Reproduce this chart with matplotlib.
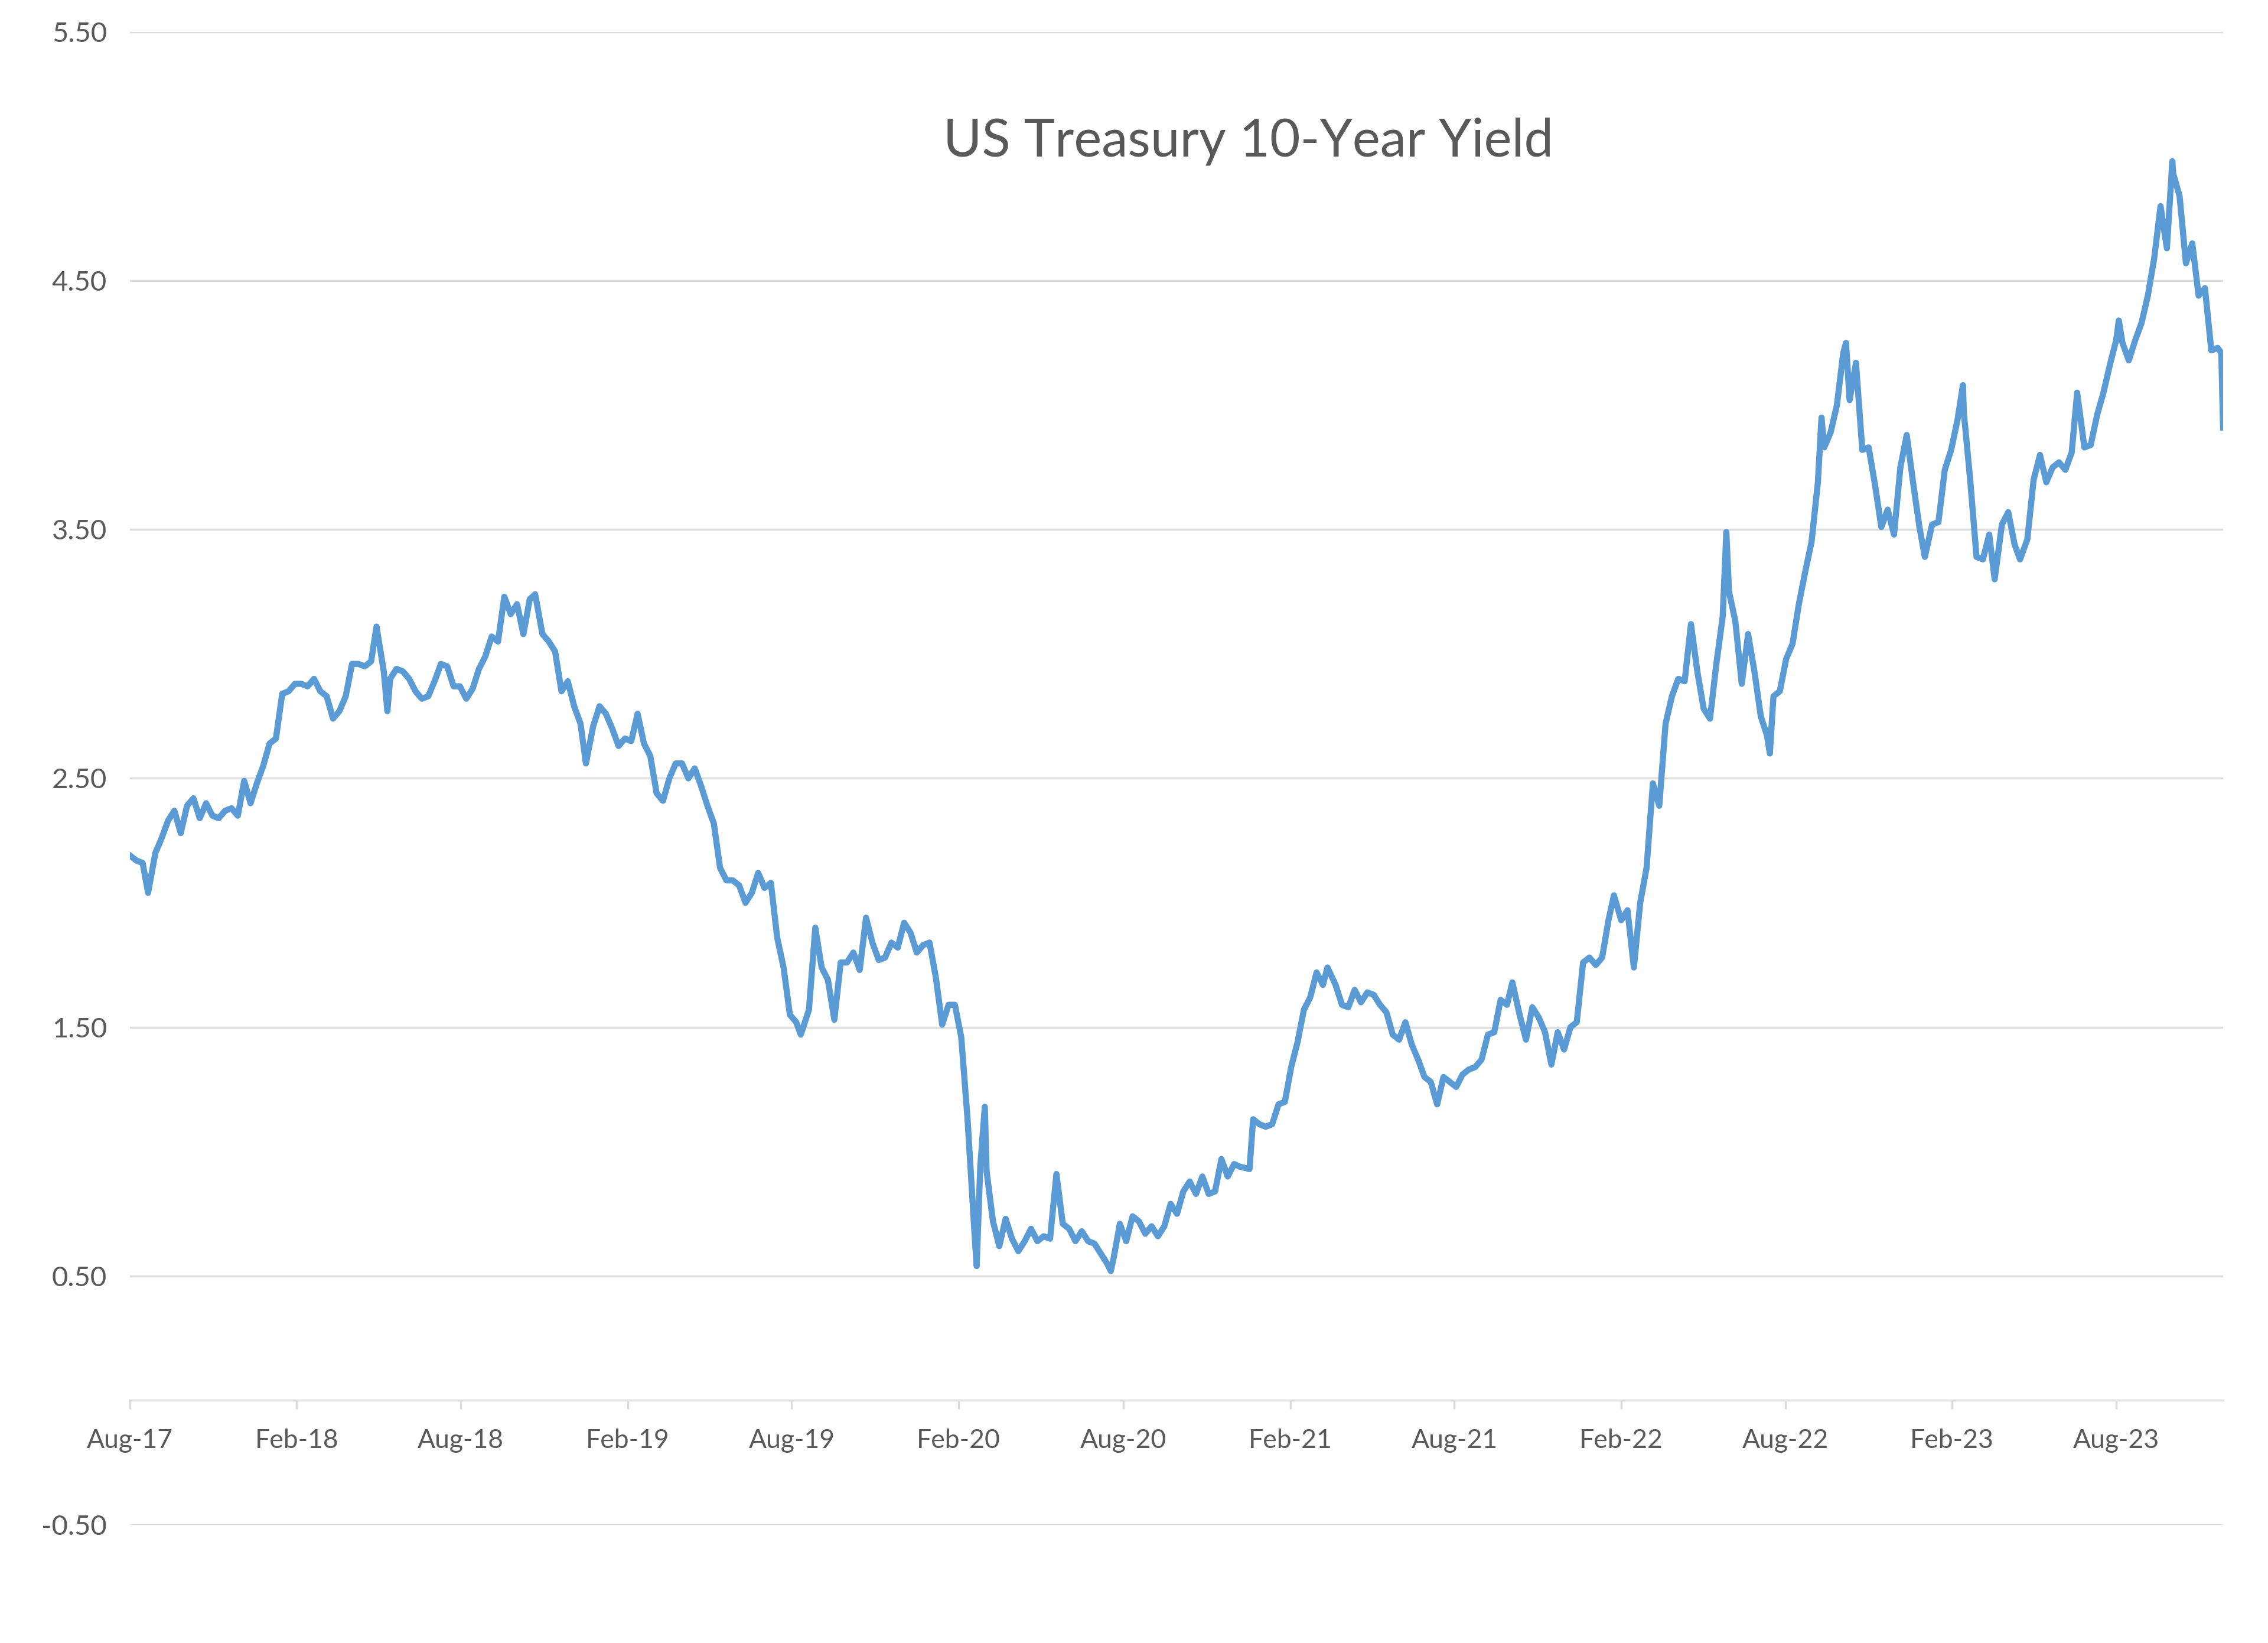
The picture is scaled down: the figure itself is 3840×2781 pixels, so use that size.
import matplotlib
matplotlib.use("Agg")
import matplotlib.pyplot as plt
import matplotlib.dates as mdates
import numpy as np
import pandas as pd

# weekly-ish readings of the 10-year yield (MM-DD per year, percent)
d2017 = ["08-18", "08-25", "09-01", "09-07", "09-15", "09-22", "09-29", "10-06", "10-13", "10-20",
         "10-27", "11-03", "11-10", "11-17", "11-24", "12-01", "12-08", "12-15", "12-22", "12-29"]
y2017 = [2.19, 2.17, 2.16, 2.04, 2.20, 2.26, 2.33, 2.37, 2.28, 2.39,
         2.42, 2.34, 2.40, 2.35, 2.34, 2.37, 2.38, 2.35, 2.49, 2.40]

d2018 = ["01-05", "01-12", "01-19", "01-26", "02-02", "02-09", "02-16", "02-23", "03-02", "03-09",
         "03-16", "03-23", "03-30", "04-06", "04-13", "04-20", "04-27", "05-04", "05-11", "05-17",
         "05-25", "05-29", "06-01", "06-08", "06-15", "06-22", "06-29", "07-06", "07-13", "07-20",
         "07-27", "08-03", "08-10", "08-17", "08-24", "08-31", "09-07", "09-14", "09-21", "09-28",
         "10-05", "10-12", "10-19", "10-26", "11-02", "11-08", "11-16", "11-23", "11-30", "12-07",
         "12-14", "12-21", "12-28"]
y2018 = [2.48, 2.55, 2.64, 2.66, 2.84, 2.85, 2.88, 2.88, 2.87, 2.90,
         2.85, 2.83, 2.74, 2.77, 2.83, 2.96, 2.96, 2.95, 2.97, 3.11,
         2.93, 2.77, 2.90, 2.94, 2.93, 2.90, 2.85, 2.82, 2.83, 2.89,
         2.96, 2.95, 2.87, 2.87, 2.82, 2.86, 2.94, 2.99, 3.07, 3.05,
         3.23, 3.16, 3.20, 3.08, 3.22, 3.24, 3.08, 3.05, 3.01, 2.85,
         2.89, 2.79, 2.72]

d2019 = ["01-03", "01-11", "01-18", "01-25", "02-01", "02-08", "02-15", "02-22", "03-01", "03-08",
         "03-15", "03-22", "03-29", "04-05", "04-12", "04-19", "04-26", "05-03", "05-10", "05-17",
         "05-24", "05-31", "06-07", "06-14", "06-21", "06-28", "07-05", "07-12", "07-19", "07-26",
         "08-02", "08-09", "08-16", "08-23", "08-28", "09-06", "09-13", "09-20", "09-27", "10-04",
         "10-11", "10-18", "10-25", "11-01", "11-08", "11-15", "11-22", "11-29", "12-06", "12-13",
         "12-20", "12-27"]
y2019 = [2.56, 2.71, 2.79, 2.76, 2.70, 2.63, 2.66, 2.65, 2.76, 2.64,
         2.59, 2.44, 2.41, 2.50, 2.56, 2.56, 2.50, 2.54, 2.47, 2.39,
         2.32, 2.14, 2.09, 2.09, 2.07, 2.00, 2.04, 2.12, 2.06, 2.08,
         1.86, 1.74, 1.55, 1.52, 1.47, 1.57, 1.90, 1.74, 1.69, 1.53,
         1.76, 1.76, 1.80, 1.73, 1.94, 1.84, 1.77, 1.78, 1.84, 1.82,
         1.92, 1.88]

d2020 = ["01-03", "01-10", "01-17", "01-24", "01-31", "02-07", "02-14", "02-21", "02-28", "03-06",
         "03-09", "03-13", "03-18", "03-20", "03-27", "04-03", "04-10", "04-17", "04-24", "05-01",
         "05-08", "05-15", "05-22", "05-29", "06-05", "06-12", "06-19", "06-26", "07-03", "07-10",
         "07-17", "07-24", "07-31", "08-04", "08-07", "08-14", "08-21", "08-28", "09-04", "09-11",
         "09-18", "09-25", "10-02", "10-09", "10-16", "10-23", "10-30", "11-06", "11-13", "11-20",
         "11-27", "12-04", "12-11", "12-18", "12-24"]
y2020 = [1.80, 1.83, 1.84, 1.70, 1.51, 1.59, 1.59, 1.46, 1.13, 0.71,
         0.54, 0.94, 1.18, 0.92, 0.72, 0.62, 0.73, 0.65, 0.60, 0.64,
         0.69, 0.64, 0.66, 0.65, 0.91, 0.71, 0.69, 0.64, 0.68, 0.64,
         0.63, 0.59, 0.55, 0.52, 0.57, 0.71, 0.64, 0.74, 0.72, 0.67,
         0.70, 0.66, 0.70, 0.79, 0.75, 0.84, 0.88, 0.83, 0.90, 0.83,
         0.84, 0.97, 0.90, 0.95, 0.94]

d2021 = ["01-04", "01-08", "01-15", "01-22", "01-29", "02-05", "02-12", "02-19", "02-26", "03-05",
         "03-12", "03-19", "03-26", "03-31", "04-09", "04-16", "04-23", "04-30", "05-07", "05-14",
         "05-21", "05-28", "06-04", "06-11", "06-18", "06-25", "07-02", "07-09", "07-16", "07-23",
         "07-30", "08-06", "08-13", "08-20", "08-27", "09-03", "09-10", "09-17", "09-24", "10-01",
         "10-08", "10-15", "10-21", "10-29", "11-05", "11-12", "11-19", "11-26", "12-03", "12-10",
         "12-17", "12-24", "12-31"]
y2021 = [0.93, 1.13, 1.11, 1.10, 1.11, 1.19, 1.20, 1.34, 1.44, 1.57,
         1.62, 1.72, 1.67, 1.74, 1.67, 1.59, 1.58, 1.65, 1.60, 1.64,
         1.63, 1.59, 1.56, 1.47, 1.45, 1.52, 1.43, 1.37, 1.30, 1.28,
         1.19, 1.30, 1.28, 1.26, 1.31, 1.33, 1.34, 1.37, 1.47, 1.48,
         1.61, 1.59, 1.68, 1.55, 1.45, 1.58, 1.54, 1.48, 1.35, 1.48,
         1.41, 1.50, 1.52]

d2022 = ["01-07", "01-14", "01-21", "01-28", "02-04", "02-10", "02-18", "02-25", "03-04", "03-11",
         "03-18", "03-25", "04-01", "04-08", "04-15", "04-22", "04-29", "05-06", "05-13", "05-20",
         "05-27", "06-03", "06-10", "06-14", "06-17", "06-24", "07-01", "07-08", "07-15", "07-22",
         "07-29", "08-01", "08-05", "08-12", "08-19", "08-26", "09-02", "09-09", "09-16", "09-23",
         "09-27", "09-30", "10-07", "10-14", "10-21", "10-24", "10-28", "11-04", "11-11", "11-18",
         "11-25", "12-02", "12-09", "12-16", "12-23", "12-30"]
y2022 = [1.76, 1.78, 1.75, 1.78, 1.93, 2.03, 1.93, 1.97, 1.74, 2.00,
         2.14, 2.48, 2.39, 2.72, 2.83, 2.90, 2.89, 3.12, 2.93, 2.78,
         2.74, 2.96, 3.15, 3.49, 3.25, 3.13, 2.88, 3.08, 2.93, 2.75,
         2.67, 2.60, 2.83, 2.85, 2.98, 3.04, 3.20, 3.33, 3.45, 3.69,
         3.95, 3.83, 3.89, 4.00, 4.21, 4.25, 4.02, 4.17, 3.82, 3.83,
         3.68, 3.51, 3.58, 3.48, 3.75, 3.88]

d2023 = ["01-06", "01-13", "01-19", "01-27", "02-03", "02-10", "02-17", "02-24", "03-02", "03-03",
         "03-10", "03-17", "03-24", "03-31", "04-06", "04-14", "04-21", "04-28", "05-04", "05-12",
         "05-19", "05-26", "06-02", "06-09", "06-16", "06-23", "06-30", "07-06", "07-14", "07-21",
         "07-28", "08-04", "08-11", "08-18", "08-21", "08-25", "09-01", "09-08", "09-15", "09-22",
         "09-29", "10-06", "10-13", "10-19", "10-20", "10-27", "11-03", "11-10", "11-17", "11-24",
         "12-01", "12-08", "12-12", "12-14"]
y2023 = [3.69, 3.51, 3.39, 3.52, 3.53, 3.74, 3.82, 3.94, 4.08, 3.97,
         3.70, 3.39, 3.38, 3.48, 3.30, 3.52, 3.57, 3.44, 3.38, 3.46,
         3.70, 3.80, 3.69, 3.75, 3.77, 3.74, 3.81, 4.05, 3.83, 3.84,
         3.96, 4.05, 4.16, 4.26, 4.34, 4.25, 4.18, 4.26, 4.33, 4.44,
         4.59, 4.80, 4.63, 4.98, 4.93, 4.84, 4.57, 4.65, 4.44, 4.47,
         4.22, 4.23, 4.21, 3.91]

year_blocks = [(2017, d2017, y2017), (2018, d2018, y2018), (2019, d2019, y2019),
               (2020, d2020, y2020), (2021, d2021, y2021), (2022, d2022, y2022),
               (2023, d2023, y2023)]

dates = []
yields = []
for yr, ds, ys in year_blocks:
    dates += [pd.Timestamp(f"{yr}-{d}") for d in ds]
    yields += ys

y_ticks = [-0.5, 0.5, 1.5, 2.5, 3.5, 4.5, 5.5]
x_ticks = pd.date_range("2017-08-18", "2023-08-18", freq=pd.DateOffset(months=6))
title = "US Treasury 10-Year Yield"

plt.rcParams["font.family"] = ["Lato", "DejaVu Sans"]
TXT = "#595959"
GRID = "#dcdcdc"

fig = plt.figure(figsize=(38.4, 27.81), dpi=100)
ax = fig.add_axes([0.0573, 0.0719, 0.9229, 0.9087])

ax.plot(dates, yields, color="#5b9bd5", linewidth=7.5, solid_joinstyle="round")

ax.set_ylim(-0.5, 5.5)
ax.set_yticks(y_ticks)
ax.yaxis.set_major_formatter(plt.FuncFormatter(lambda v, _: f"{v:.2f}"))
ax.grid(axis="y", color=GRID, linewidth=2.5)
ax.set_axisbelow(True)

ax.set_xlim(dates[0], dates[-1])
ax.set_xticks(x_ticks)
ax.xaxis.set_major_formatter(mdates.DateFormatter("%b-%y"))

for s in ("top", "right", "left"):
    ax.spines[s].set_visible(False)
ax.spines["bottom"].set_position(("data", 0))
ax.spines["bottom"].set_color(GRID)
ax.spines["bottom"].set_linewidth(2.5)

ax.tick_params(axis="y", length=0, pad=28, labelsize=34, labelcolor=TXT)
ax.tick_params(axis="x", length=11, width=2.5, color=GRID, pad=23,
               labelsize=32, labelcolor=TXT)

fig.text(0.5505, 0.914, title, ha="center", va="center", fontsize=64, color=TXT)

fig.savefig("out.png", dpi=100, facecolor="white")
